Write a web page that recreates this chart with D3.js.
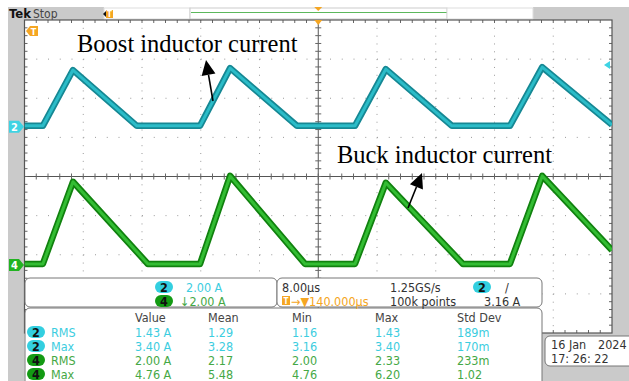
<!DOCTYPE html>
<html lang="en">
<head>
  <meta charset="UTF-8">
  <title>Boost / Buck inductor current</title>
  <style>
    body, html {
      margin: 0;
      padding: 0;
      background: #fff;
    }
    svg { display: block; }
    .tek { font-family: "Liberation Sans Narrow", "DejaVu Sans Condensed", "Liberation Sans", sans-serif; }
  </style>
</head>
<body>
  <svg id="svg" width="629" height="381"></svg>
  <script src="https://d3js.org/d3.v7.min.js"></script>
  <script>
    const width = 629
    const height = 381

    // time in microseconds (8 us/div, 10 div), current in A
    const boostTime = [0, 2.5, 6.6, 15.3, 23.9, 28.0, 37.1, 45.0, 49.2, 58.2, 66.1, 70.5, 80]
    const boostCurrent = [0.05, 0.05, 2.9, 0.05, 0.05, 3.0, 0.05, 0.05, 2.95, 0.05, 0.05, 3.05, 0.1]
    const buckTime = [0, 2.5, 6.6, 16.8, 23.9, 28.0, 38.2, 45.0, 49.2, 59.7, 66.1, 70.5, 80]
    const buckCurrent = [0.05, 0.05, 4.25, 0.05, 0.05, 4.55, 0.05, 0.05, 4.2, 0.05, 0.05, 4.55, 0.75]

    // channel settings: 2.00 A/div, ground offsets in divisions
    const ampsPerDiv = 2.0
    const ch2Offset = 1.27
    const ch4Offset = -2.26
    const trigLevel = 3.16

    // measurement table
    const measCh = ['2', '2', '4', '4']
    const measName = ['RMS', 'Max', 'RMS', 'Max']
    const measValue = ['1.43 A', '3.40 A', '2.00 A', '4.76 A']
    const measMean = ['1.29', '3.28', '2.17', '5.48']
    const measMin = ['1.16', '3.16', '2.00', '4.76']
    const measMax = ['1.43', '3.40', '2.33', '6.20']
    const measStd = ['189m', '170m', '233m', '1.02']
    const measHeaders = ['Value', 'Mean', 'Min', 'Max', 'Std Dev']

    const cyan = '#2bbcc8'
    const cyanDark = '#168894'
    const cyanText = '#3ccde0'
    const green = '#33bd33'
    const greenDark = '#11820f'
    const greenText = '#45a845'
    const orange = '#f5a623'
    const gray = '#cacaca'

    const svg = d3.select('#svg')

    // grid geometry
    const gx0 = 24.5, gx1 = 612, gy0 = 20, gy1 = 333
    const xDiv = d3.scaleLinear().domain([0, 10]).range([gx0, gx1])
    const yDiv = d3.scaleLinear().domain([-4, 4]).range([gy1, gy0])
    const xTime = d3.scaleLinear().domain([0, 80]).range([gx0, gx1])
    const yCh2 = a => yDiv(a / ampsPerDiv + ch2Offset)
    const yCh4 = a => yDiv(a / ampsPerDiv + ch4Offset)

    // background frame
    svg.append('rect').attr('width', width).attr('height', height).attr('fill', '#fff')
    svg.append('rect').attr('x', 8).attr('y', 7).attr('width', gx0 - 8).attr('height', height - 7).attr('fill', gray)
    svg.append('rect').attr('x', 8).attr('y', 7).attr('width', 96).attr('height', gy0 - 7).attr('fill', gray)
    svg.append('rect').attr('x', 533).attr('y', 7).attr('width', width - 533).attr('height', gy0 - 7).attr('fill', gray)
    svg.append('rect').attr('x', gx1).attr('y', 7).attr('width', width - gx1).attr('height', height - 7).attr('fill', gray)
    svg.append('rect').attr('x', 541).attr('y', gy1).attr('width', width - 541).attr('height', height - gy1).attr('fill', gray)

    // top bar
    const topBar = svg.append('g')
    topBar.append('text').attr('class', 'tek').attr('x', 9).attr('y', 18)
      .attr('font-size', 13).attr('font-weight', 'bold').attr('fill', '#111').text('Tek')
    topBar.append('text').attr('class', 'tek').attr('x', 33).attr('y', 18)
      .attr('font-size', 12).attr('fill', '#444').text('Stop')
    topBar.append('rect').attr('x', 104).attr('y', 8).attr('width', 86).attr('height', 11)
      .attr('fill', '#fff').attr('stroke', '#ddd')
    topBar.append('rect').attr('x', 190).attr('y', 8).attr('width', 257).attr('height', 11)
      .attr('fill', '#fff').attr('stroke', '#ccc')
    topBar.append('line').attr('x1', 191).attr('x2', 447).attr('y1', 12.5).attr('y2', 12.5)
      .attr('stroke', '#5cb85c').attr('stroke-width', 1.2)
    topBar.append('rect').attr('x', 447).attr('y', 8).attr('width', 86).attr('height', 11)
      .attr('fill', '#fff').attr('stroke', '#ddd')
    topBar.append('path').attr('d', 'M103,14 L107,10 L107,18 Z').attr('fill', '#111')
    topBar.append('rect').attr('x', 106).attr('y', 10).attr('width', 7).attr('height', 8).attr('fill', orange)
    topBar.append('text').attr('class', 'tek').attr('x', 109.5).attr('y', 17).attr('text-anchor', 'middle')
      .attr('font-size', 8).attr('font-weight', 'bold').attr('fill', '#fff').text('T')
    topBar.append('path').attr('d', `M${xDiv(5) - 4},7 L${xDiv(5) + 4},7 L${xDiv(5)},11 Z`).attr('fill', orange)

    // graticule
    const grid = svg.append('g')
    grid.append('rect').attr('x', gx0).attr('y', gy0).attr('width', gx1 - gx0).attr('height', gy1 - gy0)
      .attr('fill', '#fff')
    const minorX = (gx1 - gx0) / 50
    const minorY = (gy1 - gy0) / 40
    grid.selectAll('.vgrid').data(d3.range(1, 10).filter(d => d !== 5)).enter().append('line')
      .attr('x1', d => xDiv(d)).attr('x2', d => xDiv(d)).attr('y1', gy0).attr('y2', gy1)
      .attr('stroke', '#9a9a9a').attr('stroke-width', 1)
      .attr('stroke-dasharray', `1 ${minorY - 1}`)
    grid.selectAll('.hgrid').data(d3.range(-3, 4).filter(d => d !== 0)).enter().append('line')
      .attr('x1', gx0).attr('x2', gx1).attr('y1', d => yDiv(d)).attr('y2', d => yDiv(d))
      .attr('stroke', '#9a9a9a').attr('stroke-width', 1)
      .attr('stroke-dasharray', `1 ${minorX - 1}`)
    // center crosshair
    grid.append('line').attr('x1', gx0).attr('x2', gx1).attr('y1', yDiv(0)).attr('y2', yDiv(0))
      .attr('stroke', '#555').attr('stroke-width', 1)
    grid.append('line').attr('x1', xDiv(5)).attr('x2', xDiv(5)).attr('y1', gy0).attr('y2', gy1)
      .attr('stroke', '#555').attr('stroke-width', 1)
    const xMinor = d3.range(1, 50).map(i => gx0 + i * minorX)
    const yMinor = d3.range(1, 40).map(i => gy0 + i * minorY)
    grid.selectAll('.tx').data(xMinor).enter().append('line')
      .attr('x1', d => d).attr('x2', d => d).attr('y1', yDiv(0) - 3).attr('y2', yDiv(0) + 3)
      .attr('stroke', '#666')
    grid.selectAll('.ty').data(yMinor).enter().append('line')
      .attr('y1', d => d).attr('y2', d => d).attr('x1', xDiv(5) - 3).attr('x2', xDiv(5) + 3)
      .attr('stroke', '#666')
    grid.selectAll('.tt').data(xMinor).enter().append('line')
      .attr('x1', d => d).attr('x2', d => d).attr('y1', gy0).attr('y2', gy0 + 3).attr('stroke', '#666')
    grid.selectAll('.tb').data(xMinor).enter().append('line')
      .attr('x1', d => d).attr('x2', d => d).attr('y1', gy1 - 3).attr('y2', gy1).attr('stroke', '#666')
    grid.selectAll('.tl').data(yMinor).enter().append('line')
      .attr('y1', d => d).attr('y2', d => d).attr('x1', gx0).attr('x2', gx0 + 3).attr('stroke', '#666')
    grid.selectAll('.tr').data(yMinor).enter().append('line')
      .attr('y1', d => d).attr('y2', d => d).attr('x1', gx1 - 3).attr('x2', gx1).attr('stroke', '#666')
    grid.append('rect').attr('x', gx0).attr('y', gy0).attr('width', gx1 - gx0).attr('height', gy1 - gy0)
      .attr('fill', 'none').attr('stroke', '#555').attr('stroke-width', 1.2)

    // traces
    svg.append('clipPath').attr('id', 'clip').append('rect')
      .attr('x', gx0).attr('y', gy0).attr('width', gx1 - gx0).attr('height', gy1 - gy0)
    const traces = svg.append('g').attr('clip-path', 'url(#clip)')
    const boostData = boostTime.map((t, i) => [t, boostCurrent[i]])
    const buckData = buckTime.map((t, i) => [t, buckCurrent[i]])
    const line2 = d3.line().x(d => xTime(d[0])).y(d => yCh2(d[1]))
    const line4 = d3.line().x(d => xTime(d[0])).y(d => yCh4(d[1]))
    traces.append('path').attr('d', line2(boostData)).attr('fill', 'none')
      .attr('stroke', cyanDark).attr('stroke-width', 6.5).attr('stroke-linejoin', 'round')
    traces.append('path').attr('d', line2(boostData)).attr('fill', 'none')
      .attr('stroke', cyan).attr('stroke-width', 3).attr('stroke-linejoin', 'round')
    traces.append('path').attr('d', line4(buckData)).attr('fill', 'none')
      .attr('stroke', greenDark).attr('stroke-width', 6.5).attr('stroke-linejoin', 'round')
    traces.append('path').attr('d', line4(buckData)).attr('fill', 'none')
      .attr('stroke', green).attr('stroke-width', 3).attr('stroke-linejoin', 'round')

    // markers
    const mk = svg.append('g')
    mk.append('path').attr('d', 'M26,31 L30,26 L38,26 L38,36 L30,36 Z').attr('fill', orange)
    mk.append('text').attr('class', 'tek').attr('x', 33.5).attr('y', 35).attr('text-anchor', 'middle')
      .attr('font-size', 9).attr('font-weight', 'bold').attr('fill', '#fff').text('T')
    mk.append('path').attr('d', `M${xDiv(5) - 4},${gy0} L${xDiv(5) + 4},${gy0} L${xDiv(5)},${gy0 + 5} Z`)
      .attr('fill', orange)
    mk.append('path').attr('d', `M${gx1 - 8},${yCh2(trigLevel)} L${gx1 - 2},${yCh2(trigLevel) - 4} L${gx1 - 2},${yCh2(trigLevel) + 4} Z`)
      .attr('fill', '#3fd3e3')
    const chMarker = (y, label, fill) => {
      mk.append('path').attr('d', `M9,${y - 6} L19,${y - 6} L24,${y} L19,${y + 6} L9,${y + 6} Z`).attr('fill', fill)
      mk.append('text').attr('class', 'tek').attr('x', 14.5).attr('y', y + 4.5).attr('text-anchor', 'middle')
        .attr('font-size', 11).attr('font-weight', 'bold').attr('fill', '#fff').text(label)
    }
    chMarker(yCh2(0), '2', '#3fd3e3')
    chMarker(yCh4(0), '4', '#22b322')

    // annotations
    const ann = svg.append('g')
    ann.append('text').attr('x', 77).attr('y', 52).attr('font-family', '"Liberation Serif", "Times New Roman", serif')
      .attr('font-size', 24.5).attr('fill', '#000').text('Boost inductor current')
    ann.append('text').attr('x', 337).attr('y', 163).attr('font-family', '"Liberation Serif", "Times New Roman", serif')
      .attr('font-size', 24.5).attr('fill', '#000').text('Buck inductor current')
    const arrow = (x1, y1, x2, y2) => {
      const a = Math.atan2(y2 - y1, x2 - x1)
      const len = 15, w = 7
      const bx = x2 - len * Math.cos(a), by = y2 - len * Math.sin(a)
      ann.append('line').attr('x1', x1).attr('y1', y1).attr('x2', bx).attr('y2', by)
        .attr('stroke', '#000').attr('stroke-width', 1.6)
      ann.append('path').attr('d', `M${x2},${y2} L${bx + w * Math.sin(a)},${by - w * Math.cos(a)} L${bx - w * Math.sin(a)},${by + w * Math.cos(a)} Z`)
        .attr('fill', '#000')
    }
    arrow(213, 101, 206, 60)
    arrow(408, 208, 422, 173)

    // readout panels
    const panel = svg.append('g').attr('class', 'tek').attr('font-size', 12.5)
    const box = (x, y, w, h) => panel.append('rect').attr('x', x).attr('y', y).attr('width', w).attr('height', h)
      .attr('rx', 5).attr('fill', '#fff').attr('stroke', '#777').attr('stroke-width', 1)
    box(25, 278, 252, 29)
    box(277, 278, 265, 29)
    box(25, 308, 517, 80)
    const pill = (cx, cy, label, fill) => {
      panel.append('rect').attr('x', cx - 9).attr('y', cy - 6).attr('width', 18).attr('height', 12)
        .attr('rx', 6).attr('fill', fill)
      panel.append('text').attr('x', cx).attr('y', cy + 4.5).attr('text-anchor', 'middle')
        .attr('font-weight', 'bold').attr('fill', '#111').text(label)
    }
    pill(164, 287, '2', '#33cfe0')
    panel.append('text').attr('x', 186).attr('y', 291.5).attr('fill', cyanText).text('2.00 A')
    pill(164, 301, '4', '#139a13')
    panel.append('text').attr('x', 180).attr('y', 305.5).attr('fill', greenText).text('↓2.00 A')

    panel.append('text').attr('x', 282).attr('y', 291.5).attr('fill', '#333').text('8.00µs')
    panel.append('rect').attr('x', 282).attr('y', 296).attr('width', 8).attr('height', 9).attr('fill', orange)
    panel.append('text').attr('x', 286).attr('y', 304).attr('text-anchor', 'middle').attr('font-size', 8)
      .attr('font-weight', 'bold').attr('fill', '#fff').text('T')
    panel.append('text').attr('x', 291).attr('y', 305.5).attr('fill', orange).text('→▼140.000µs')
    panel.append('text').attr('x', 390).attr('y', 291.5).attr('fill', '#333').text('1.25GS/s')
    panel.append('text').attr('x', 390).attr('y', 305.5).attr('fill', '#333').text('100k points')
    pill(482, 287, '2', '#33cfe0')
    panel.append('text').attr('x', 505).attr('y', 291.5).attr('fill', '#333').text('/')
    panel.append('text').attr('x', 484).attr('y', 305.5).attr('fill', '#333').text('3.16 A')

    const colX = [135, 208, 292, 375, 457]
    panel.selectAll('.hdr').data(measHeaders).enter().append('text')
      .attr('x', (d, i) => colX[i]).attr('y', 322).attr('fill', '#444').text(d => d)
    const rowY = [332, 346, 360, 374]
    measCh.forEach((ch, i) => {
      const col = ch === '2' ? cyanText : greenText
      pill(36, rowY[i], ch, ch === '2' ? '#33cfe0' : '#139a13')
      const cells = [measName[i], measValue[i], measMean[i], measMin[i], measMax[i], measStd[i]]
      const xs = [51].concat(colX)
      cells.forEach((c, j) => {
        panel.append('text').attr('x', xs[j]).attr('y', rowY[i] + 4.5).attr('fill', col).text(c)
      })
    })

    // date box
    panel.append('rect').attr('x', 545).attr('y', 336).attr('width', 90).attr('height', 30)
      .attr('rx', 5).attr('fill', '#fff').attr('stroke', '#777')
    panel.append('text').attr('x', 551).attr('y', 349).attr('fill', '#333').text('16 Jan')
    panel.append('text').attr('x', 598).attr('y', 349).attr('fill', '#333').text('2024')
    panel.append('text').attr('x', 551).attr('y', 363).attr('fill', '#333').text('17: 26: 22')
  </script>
</body>
</html>
